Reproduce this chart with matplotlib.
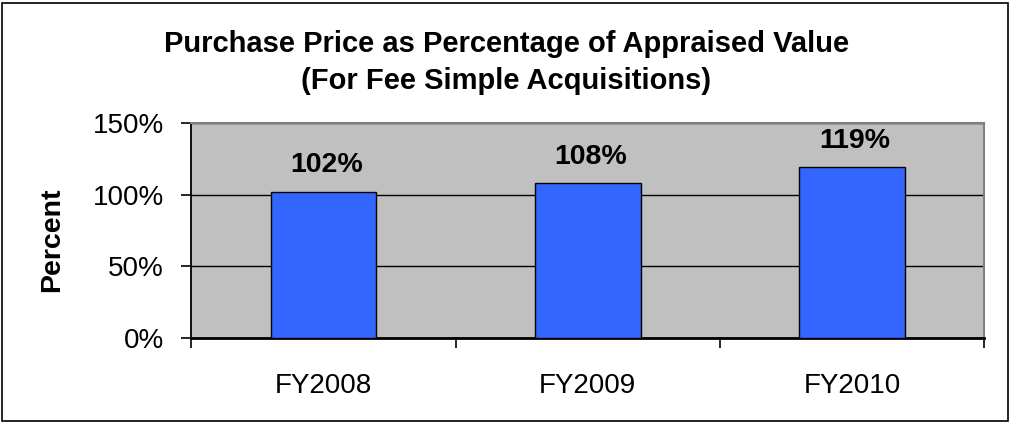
import numpy as np
import matplotlib.pyplot as plt
from matplotlib.patches import Rectangle

plt.rcParams['font.family'] = ['Liberation Sans', 'DejaVu Sans']

# data
years = ['FY2008', 'FY2009', 'FY2010']
pct = [102, 108, 119]
yticks = [0, 50, 100, 150]

fig = plt.figure(figsize=(10.13, 4.24), dpi=100)
ax = fig.add_axes([0.189, 0.2021, 0.9714 - 0.189, 0.7106 - 0.2021])

# outer chart border
fig.patches.append(Rectangle((2 / 1013, 3 / 424), 1006 / 1013, 418 / 424, transform=fig.transFigure,
                             fill=False, edgecolor='black', linewidth=1.2))

ax.set_facecolor('#C0C0C0')
x = np.arange(len(years))
ax.bar(x, pct, width=0.4, color='#3366FF', edgecolor='black', linewidth=1.0, zorder=3)
for xi, v in zip(x, pct):
    ax.annotate(f'{v}%', (xi, v), xytext=(2, 19), textcoords='offset points',
                ha='center', va='center', fontsize=20.5, fontweight='bold')

ax.set_xlim(-0.5, len(years) - 0.5)
ax.set_ylim(0, 150)
ax.set_yticks(yticks)
ax.set_yticklabels([f'{t}%' for t in yticks], fontsize=20)
ax.yaxis.grid(True, color='black', linewidth=1.0, zorder=1)
ax.set_axisbelow(True)

ax.set_xticks(x)
ax.set_xticklabels(years, fontsize=20)
ax.set_xticks(np.arange(-0.5, len(years), 1.0), minor=True)
ax.tick_params(axis='x', which='major', length=0, pad=25)
ax.tick_params(axis='x', which='minor', length=7, width=1.2, direction='out')
ax.tick_params(axis='y', length=7, width=1.2, direction='out', pad=13)

for s in ['top', 'right']:
    ax.spines[s].set_color('#808080')
    ax.spines[s].set_linewidth(1.5)
ax.spines['left'].set_linewidth(1.3)
ax.spines['bottom'].set_linewidth(2.0)

fig.text(0.5, 0.897, 'Purchase Price as Percentage of Appraised Value', ha='center', va='center',
         fontsize=21, fontweight='bold')
fig.text(0.5, 0.810, '(For Fee Simple Acquisitions)', ha='center', va='center',
         fontsize=21, fontweight='bold')
fig.text(52 / 1013, 1 - 240 / 424, 'Percent', rotation=90, ha='center', va='center',
         fontsize=20.5, fontweight='bold')

fig.savefig('out.png', dpi=100)
